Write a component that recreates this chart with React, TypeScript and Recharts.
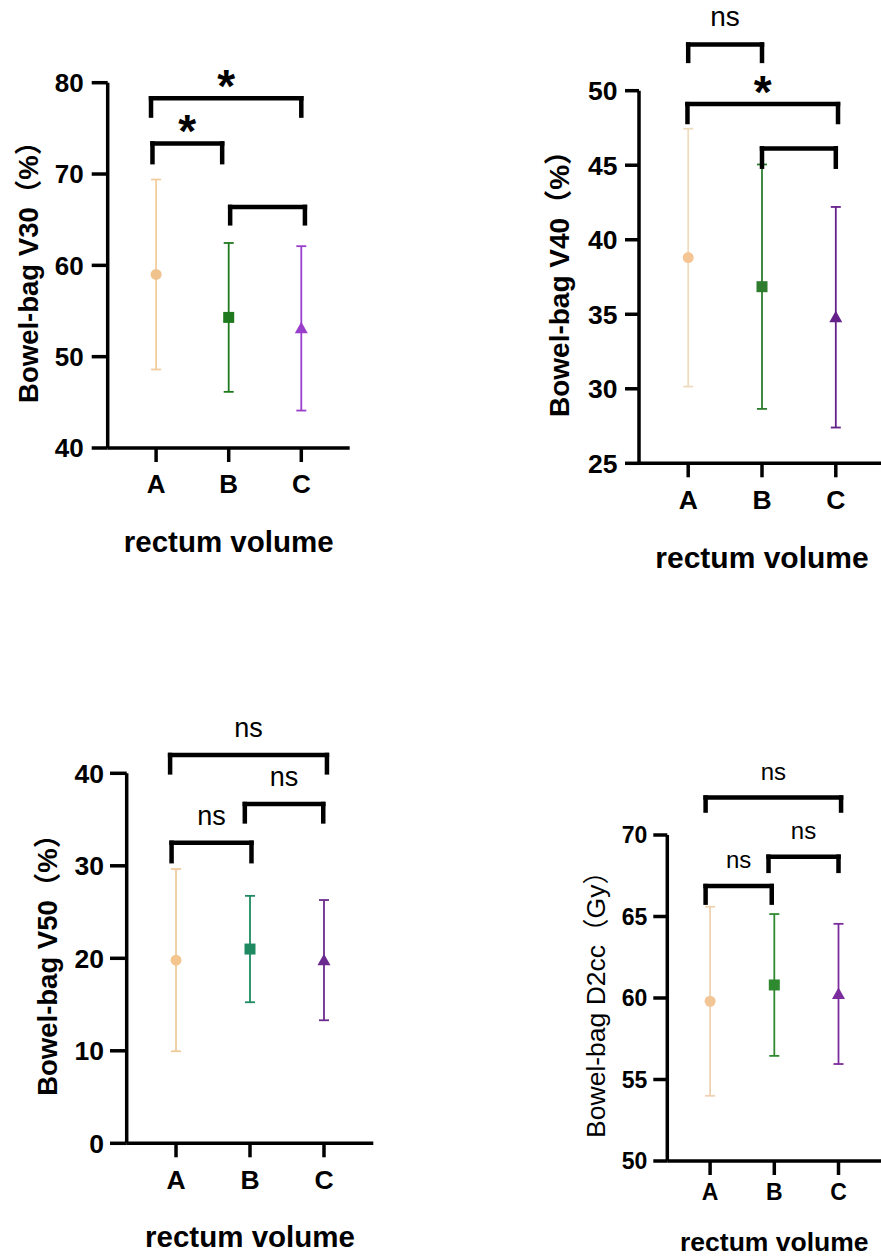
import React from 'react';
import { ComposedChart, Scatter, ErrorBar, XAxis, YAxis, ReferenceLine } from 'recharts';

const CATEGORIES = ['A', 'B', 'C'];

const V30_MEAN = [59.0, 54.3, 53.1];
const V30_SD = [10.4, 8.15, 9.0];
const V30_TICKS = [40, 50, 60, 70, 80];

const V40_MEAN = [38.8, 36.85, 34.8];
const V40_SD = [8.65, 8.2, 7.4];
const V40_TICKS = [25, 30, 35, 40, 45, 50];

const V50_MEAN = [19.8, 21.0, 19.8];
const V50_SD = [9.85, 5.75, 6.5];
const V50_TICKS = [0, 10, 20, 30, 40];

const D2CC_MEAN = [59.8, 60.8, 60.25];
const D2CC_SD = [5.8, 4.35, 4.3];
const D2CC_TICKS = [50, 55, 60, 65, 70];

// significance brackets: from / to in category index, top and foot in axis units
type Sig = { from: number; to: number; top: number; foot: number; text: string };

const V30_SIG: Sig[] = [
  { from: -0.07, to: 2.0, top: 78.3, foot: 76.4, text: '*' },
  { from: -0.05, to: 0.91, top: 73.35, foot: 71.3, text: '*' },
  { from: 1.02, to: 2.05, top: 66.4, foot: 64.6, text: '' },
];
const V40_SIG: Sig[] = [
  { from: 0.0, to: 1.0, top: 53.1, foot: 52.0, text: 'ns' },
  { from: -0.01, to: 2.03, top: 49.1, foot: 47.9, text: '*' },
  { from: 1.0, to: 2.0, top: 46.13, foot: 44.9, text: '' },
];
const V50_SIG: Sig[] = [
  { from: -0.08, to: 2.04, top: 41.98, foot: 40.1, text: 'ns' },
  { from: 0.93, to: 1.99, top: 36.68, foot: 34.8, text: 'ns' },
  { from: -0.06, to: 1.02, top: 32.49, foot: 30.5, text: 'ns' },
];
const D2CC_SIG: Sig[] = [
  { from: -0.07, to: 2.04, top: 72.3, foot: 71.5, text: 'ns' },
  { from: 0.91, to: 2.0, top: 68.67, foot: 67.8, text: 'ns' },
  { from: -0.07, to: 0.96, top: 66.87, foot: 65.85, text: 'ns' },
];

const FONT = '"Liberation Sans", Arial, "Noto Sans CJK SC", sans-serif';
const AXIS = { stroke: '#000', strokeWidth: 3.5 };

const panels = [
  {
    key: 'v30', left: 0, top: 0, width: 360, height: 580,
    margin: { top: 82.7, right: 10.3, bottom: 12, left: 0 },
    xAxisHeight: 120, yAxisWidth: 107.7, yTickSize: 16, yTickMargin: 8, xTickMargin: 13,
    tickSize: 26, yTitle: 'Bowel-bag V30（%）', yTitleX: 38, yTitleSize: 27.5, yTitleWeight: 700,
    xTitleDy: 104, xTitleSize: 29.5, sigSize: 27,
    mean: V30_MEAN, sd: V30_SD, ticks: V30_TICKS, sig: V30_SIG,
    marker: ['#F0C28E', '#1F7A1F', '#9A3FCB'], bar: ['#F2CDA0', '#1F7A1F', '#9A3FCB'],
  },
  {
    key: 'v40', left: 520, top: 0, width: 365, height: 600,
    margin: { top: 90.7, right: 0, bottom: 16.7, left: 0 },
    xAxisHeight: 120, yAxisWidth: 119, yTickSize: 14, yTickMargin: 7.5, xTickMargin: 13,
    tickSize: 26.5, yTitle: 'Bowel-bag V40（%）', yTitleX: 48.6, yTitleSize: 28, yTitleWeight: 700,
    xTitleDy: 105, xTitleSize: 30, sigSize: 28,
    mean: V40_MEAN, sd: V40_SD, ticks: V40_TICKS, sig: V40_SIG,
    marker: ['#F5C594', '#2E7D2E', '#65218A'], bar: ['#EEDCBF', '#2E7D2E', '#65218A'],
  },
  {
    key: 'v50', left: 0, top: 680, width: 380, height: 576,
    margin: { top: 93.3, right: 6.7, bottom: 2.7, left: 0 },
    xAxisHeight: 110, yAxisWidth: 126.7, yTickSize: 16.7, yTickMargin: 6, xTickMargin: 13,
    tickSize: 26.5, yTitle: 'Bowel-bag V50（%）', yTitleX: 56.7, yTitleSize: 27.5, yTitleWeight: 700,
    xTitleDy: 103.4, xTitleSize: 29.5, sigSize: 27,
    mean: V50_MEAN, sd: V50_SD, ticks: V50_TICKS, sig: V50_SIG,
    marker: ['#F5C58E', '#1F8A62', '#6B2A8F'], bar: ['#EFCB9C', '#1F8A62', '#6B2A8F'],
  },
  {
    key: 'd2cc', left: 560, top: 740, width: 325, height: 516,
    margin: { top: 95, right: 3.7, bottom: 3, left: 0 },
    xAxisHeight: 92, yAxisWidth: 107.3, yTickSize: 14, yTickMargin: 6, xTickMargin: 9,
    tickSize: 23, yTitle: 'Bowel-bag D2cc（Gy）', yTitleX: 45, yTitleSize: 26.5, yTitleWeight: 400,
    xTitleDy: 89.7, xTitleSize: 26.5, sigSize: 24,
    mean: D2CC_MEAN, sd: D2CC_SD, ticks: D2CC_TICKS, sig: D2CC_SIG,
    marker: ['#F2C597', '#2F8A2F', '#7B2D9D'], bar: ['#EDD3B1', '#2F8A2F', '#7B2D9D'],
  },
];

type PanelCfg = (typeof panels)[number];

// circle, square, triangle markers for A, B, C
const markerShape = (i: number, color: string) => (props: any) => {
  const { cx, cy } = props;
  if (i === 0) return <circle cx={cx} cy={cy} r={5.5} fill={color} />;
  if (i === 1) return <rect x={cx - 5.5} y={cy - 5.5} width={11} height={11} fill={color} />;
  return <polygon points={`${cx},${cy - 6.5} ${cx - 6.5},${cy + 5} ${cx + 6.5},${cy + 5}`} fill={color} />;
};

const yTitle = (p: PanelCfg) => (props: any) => {
  const vb = props.viewBox;
  const cx = vb.x + p.yTitleX;
  const cy = vb.y + vb.height / 2;
  return (
    <text x={cx} y={cy} transform={`rotate(-90, ${cx}, ${cy})`} textAnchor="middle"
      fontFamily={FONT} fontSize={p.yTitleSize} fontWeight={p.yTitleWeight} fill="#000">
      {p.yTitle}
    </text>
  );
};

const xTitle = (p: PanelCfg) => (props: any) => {
  const vb = props.viewBox;
  return (
    <text x={vb.x + vb.width / 2} y={vb.y + p.xTitleDy} textAnchor="middle"
      fontFamily={FONT} fontSize={p.xTitleSize} fontWeight={700} fill="#000">
      rectum volume
    </text>
  );
};

const sigLabel = (text: string, size: number) => (props: any) => {
  const vb = props.viewBox;
  const cx = vb.x + vb.width / 2;
  const star = text === '*';
  return (
    <text x={cx} y={star ? vb.y + 4 : vb.y - 18} textAnchor="middle" fontFamily={FONT}
      fontSize={star ? 46 : size} fontWeight={star ? 700 : 400} fill="#000">
      {text}
    </text>
  );
};

function Panel({ p }: { p: PanelCfg }) {
  const lo = p.ticks[0];
  const hi = p.ticks[p.ticks.length - 1];
  const line = { stroke: '#000', strokeWidth: 4.5, strokeLinecap: 'square' as const, ifOverflow: 'visible' as const };
  const tickFont = { fill: '#000', fontSize: p.tickSize, fontWeight: 700, fontFamily: FONT };
  return (
    <div style={{ position: 'absolute', left: p.left, top: p.top }}>
      <ComposedChart width={p.width} height={p.height} margin={p.margin}>
        <XAxis type="number" dataKey="pos" domain={[-2 / 3, 8 / 3]} ticks={[0, 1, 2]} interval={0}
          allowDataOverflow tickFormatter={(v: number) => CATEGORIES[v]} height={p.xAxisHeight}
          tickSize={14} tickMargin={p.xTickMargin} axisLine={AXIS} tickLine={AXIS}
          fontSize={p.tickSize} fontWeight={700} fontFamily={FONT}
          tick={tickFont} label={xTitle(p)} />
        <YAxis type="number" dataKey="val" domain={[lo, hi]} ticks={p.ticks} interval={0}
          allowDataOverflow width={p.yAxisWidth} tickSize={p.yTickSize} tickMargin={p.yTickMargin}
          axisLine={AXIS} tickLine={AXIS}
          fontSize={p.tickSize} fontWeight={700} fontFamily={FONT}
          tick={tickFont} label={yTitle(p)} />
        {CATEGORIES.map((c, i) => (
          <Scatter key={c} data={[{ pos: i, val: p.mean[i], sd: p.sd[i] }]} dataKey="val"
            isAnimationActive={false} shape={markerShape(i, p.marker[i])}>
            <ErrorBar dataKey="sd" direction="y" width={5} stroke={p.bar[i]} strokeWidth={1.8}
              isAnimationActive={false} />
          </Scatter>
        ))}
        {p.sig.map((s, k) => [
          <ReferenceLine key={`l${k}`} {...line} segment={[{ x: s.from, y: s.foot }, { x: s.from, y: s.top }]} />,
          <ReferenceLine key={`r${k}`} {...line} segment={[{ x: s.to, y: s.foot }, { x: s.to, y: s.top }]} />,
          <ReferenceLine key={`h${k}`} {...line} segment={[{ x: s.from, y: s.top }, { x: s.to, y: s.top }]}
            label={s.text ? sigLabel(s.text, p.sigSize) : undefined} />,
        ])}
      </ComposedChart>
    </div>
  );
}

export default function App() {
  return (
    <div style={{ position: 'absolute', left: 0, top: 0, width: 881, height: 1256, overflow: 'hidden', background: '#fff' }}>
      {panels.map((p) => (
        <Panel key={p.key} p={p} />
      ))}
    </div>
  );
}
